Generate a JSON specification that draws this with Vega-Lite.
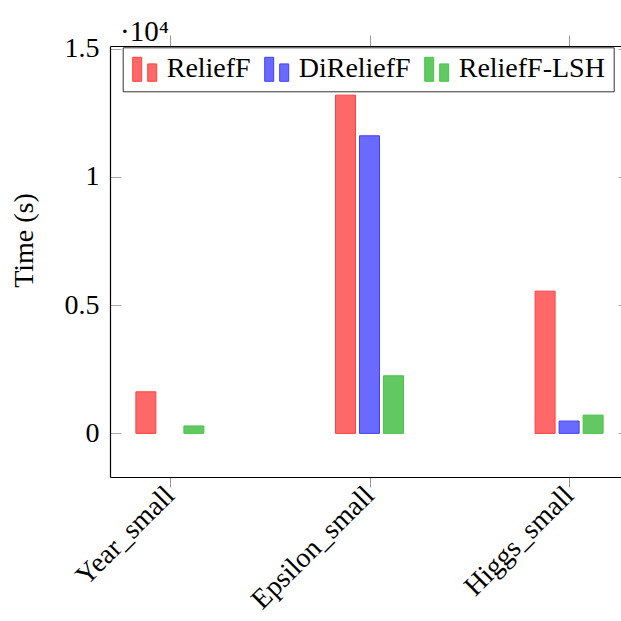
{
  "$schema": "https://vega.github.io/schema/vega-lite/v6.json",
  "autosize": {"type": "none"},
  "padding": {"left": 110, "top": 46, "right": 0, "bottom": 144},
  "width": 511,
  "height": 431,
  "background": "white",
  "title": {
    "text": "·10⁴",
    "anchor": "start",
    "frame": "group",
    "font": "'Liberation Serif', 'Times New Roman', serif",
    "fontSize": 29,
    "fontWeight": "normal",
    "color": "black",
    "dx": 10,
    "dy": 37,
    "offset": 2,
    "baseline": "alphabetic"
  },
  "config": {
    "view": {"stroke": null},
    "font": "'Liberation Serif', 'Times New Roman', serif",
    "legend": {
      "orient": "none",
      "legendX": 12.7,
      "legendY": 1.3,
      "direction": "horizontal",
      "padding": 8,
      "strokeColor": "#333333",
      "fillColor": "white",
      "symbolType": "M-1,-1H-0.25V1H-1Z M0.25,-0.45H1V1H0.25Z",
      "symbolSize": 576,
      "symbolStrokeWidth": 1,
      "labelFont": "'Liberation Serif', 'Times New Roman', serif",
      "labelFontSize": 28,
      "labelColor": "black",
      "labelOffset": 8,
      "columnPadding": 12,
      "labelLimit": 400
    }
  },
  "data": {
    "values": [
      {"dataset": "Year_small", "method": "ReliefF", "time": 1620},
      {"dataset": "Year_small", "method": "ReliefF-LSH", "time": 290},
      {"dataset": "Epsilon_small", "method": "ReliefF", "time": 13185},
      {"dataset": "Epsilon_small", "method": "DiReliefF", "time": 11600},
      {"dataset": "Epsilon_small", "method": "ReliefF-LSH", "time": 2245},
      {"dataset": "Higgs_small", "method": "ReliefF", "time": 5545},
      {"dataset": "Higgs_small", "method": "DiReliefF", "time": 480},
      {"dataset": "Higgs_small", "method": "ReliefF-LSH", "time": 713}
    ]
  },
  "resolve": {"axis": {"x": "independent", "y": "independent"}},
  "layer": [
    {
      "mark": {"type": "bar", "strokeWidth": 1},
      "encoding": {
        "x": {
          "field": "dataset",
          "type": "nominal",
          "sort": ["Year_small", "Epsilon_small", "Higgs_small"],
          "scale": {"type": "point", "padding": 0.3, "range": [0, 519]},
          "axis": {
            "title": null,
            "orient": "bottom",
            "labelAngle": -45,
            "labelAlign": "right",
            "labelBaseline": "middle",
            "labelFont": "'Liberation Serif', 'Times New Roman', serif",
            "labelFontSize": 28,
            "labelColor": "black",
            "labelPadding": 4,
            "tickSize": 10,
            "tickColor": "#999999",
            "domainColor": "black",
            "domainWidth": 1.2,
            "grid": false
          }
        },
        "xOffset": {
          "field": "method",
          "type": "nominal",
          "sort": ["ReliefF", "DiReliefF", "ReliefF-LSH"],
          "scale": {"type": "band", "domain": ["ReliefF", "DiReliefF", "ReliefF-LSH"], "range": [-36, 36], "paddingInner": 0.167, "paddingOuter": 0.083}
        },
        "y": {
          "field": "time",
          "type": "quantitative",
          "scale": {"domain": [-1700, 15100], "nice": false, "zero": false},
          "axis": {
            "title": "Time (s)",
            "titleFont": "'Liberation Serif', 'Times New Roman', serif",
            "titleFontSize": 28,
            "titleFontWeight": "normal",
            "titleColor": "black",
            "titleAngle": -90,
            "titleAlign": "center",
            "titleBaseline": "middle",
            "titleX": -86,
            "titleY": 194,
            "values": [0, 5000, 10000, 15000],
            "labelExpr": "datum.value / 10000",
            "labelFont": "'Liberation Serif', 'Times New Roman', serif",
            "labelFontSize": 28,
            "labelColor": "black",
            "tickSize": -11,
            "labelPadding": 22,
            "tickColor": "#aaaaaa",
            "domainColor": "black",
            "domainWidth": 1.2,
            "grid": false
          }
        },
        "fill": {
          "field": "method",
          "type": "nominal",
          "title": null,
          "sort": ["ReliefF", "DiReliefF", "ReliefF-LSH"],
          "scale": {"domain": ["ReliefF", "DiReliefF", "ReliefF-LSH"], "range": ["#ff6868", "#6a6aff", "#62c862"]}
        },
        "stroke": {
          "field": "method",
          "type": "nominal",
          "title": null,
          "sort": ["ReliefF", "DiReliefF", "ReliefF-LSH"],
          "scale": {"domain": ["ReliefF", "DiReliefF", "ReliefF-LSH"], "range": ["#ff4040", "#4040ff", "#4cc44c"]}
        }
      }
    },
    {
      "mark": {"type": "point", "opacity": 0},
      "encoding": {
        "x": {
          "field": "dataset",
          "type": "nominal",
          "sort": ["Year_small", "Epsilon_small", "Higgs_small"],
          "axis": {
            "title": null,
            "orient": "top",
            "labels": false,
            "tickSize": 11,
            "tickColor": "#999999",
            "domainColor": "black",
            "domainWidth": 1.2,
            "grid": false
          }
        },
        "y": {
          "field": "time",
          "type": "quantitative",
          "axis": {
            "title": null,
            "orient": "right",
            "offset": 8,
            "values": [0, 5000, 10000, 15000],
            "labels": false,
            "tickSize": -11,
            "tickColor": "#aaaaaa",
            "domainColor": "black",
            "grid": false
          }
        }
      }
    }
  ]
}
